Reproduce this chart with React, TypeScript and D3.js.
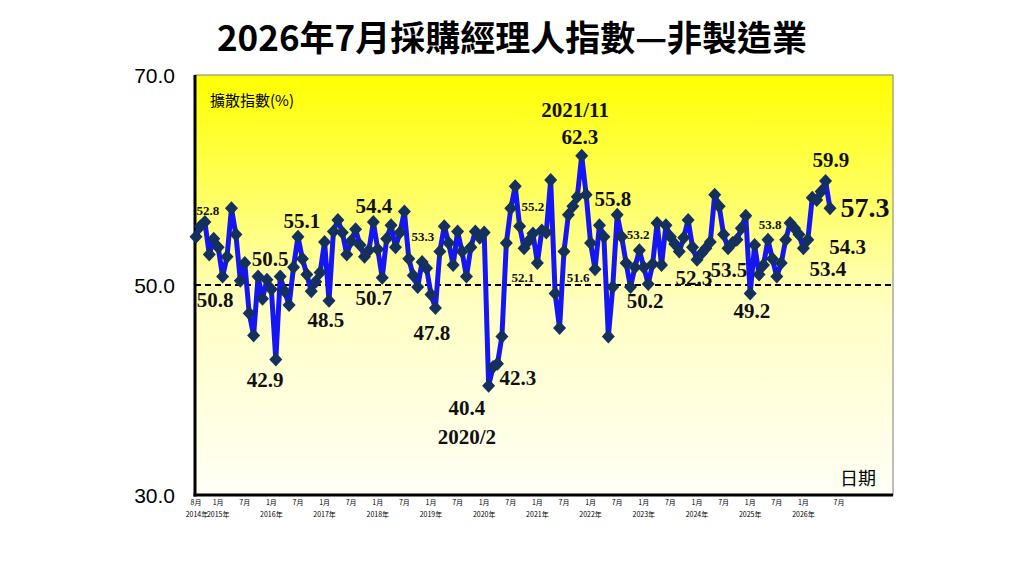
import React from 'react';
import * as d3 from 'd3';

// ---- data ----
const startYear = 2014;
const startMonth = 8;
const values: number[] = [
  54.6, 55.6, 56.0, 52.9, 54.4,
  53.6, 50.8, 52.7, 57.3, 54.8, 50.4, 52.1, 47.3, 45.2, 50.8, 48.7, 50.5,
  49.6, 42.9, 50.8, 49.4, 48.1, 51.7, 54.6, 52.5, 51.0, 49.4, 50.3, 51.2,
  54.1, 48.5, 55.1, 56.2, 55.0, 52.9, 54.2, 55.3, 53.8, 52.7, 53.3, 56.0,
  53.4, 50.7, 54.4, 55.7, 53.6, 55.0, 57.0, 52.5, 50.9, 49.8, 52.2, 51.6,
  49.1, 47.8, 53.2, 55.6, 54.0, 51.9, 55.1, 53.2, 50.8, 53.6, 55.1, 54.5,
  55.0, 40.4, 42.2, 42.5, 45.1, 54.0, 57.3, 59.4, 55.6, 53.5, 54.2, 54.9,
  52.1, 55.2, 55.0, 60.0, 49.2, 45.9, 53.2, 56.7, 57.5, 58.4, 62.3, 58.6,
  54.0, 51.5, 55.7, 54.6, 45.1, 49.8, 56.7, 54.6, 52.1, 49.8, 51.7, 53.3,
  51.7, 50.1, 52.0, 55.9, 51.9, 55.7, 54.6, 53.9, 53.2, 54.5, 56.2, 53.6,
  52.4, 53.0, 53.5, 54.1, 58.6, 57.5, 54.8, 53.5, 54.0, 54.3, 55.4, 56.6,
  49.2, 53.8, 51.0, 51.9, 54.3, 52.5, 50.8, 52.1, 54.3, 55.9, 55.4, 54.8,
  53.5, 54.3, 58.3, 58.1, 58.9, 59.9, 57.3,
];
const categories = values.map((_, i) => {
  const m = startMonth - 1 + i;
  return { year: startYear + Math.floor(m / 12), month: (m % 12) + 1 };
});
const yTicks = [30, 50, 70];
const threshold = 50;

const titleText = '2026年7月採購經理人指數—非製造業';
const yAxisTitle = '擴散指數(%)';
const xAxisTitle = '日期';

// annotation labels: anchor in data space (category index, value)
const annotations = [
  { text: '52.8', idx: 2.7, v: 57.1, kind: 's' },
  { text: '50.8', idx: 4.3, v: 48.6, kind: 'm' },
  { text: '50.5', idx: 16.7, v: 52.5, kind: 'm' },
  { text: '42.9', idx: 15.6, v: 40.95, kind: 'm' },
  { text: '55.1', idx: 23.9, v: 56.1, kind: 'm' },
  { text: '48.5', idx: 29.3, v: 46.7, kind: 'm' },
  { text: '54.4', idx: 40.1, v: 57.6, kind: 'm' },
  { text: '50.7', idx: 40.1, v: 48.8, kind: 'm' },
  { text: '53.3', idx: 51.2, v: 54.6, kind: 's' },
  { text: '47.8', idx: 53.2, v: 45.5, kind: 'm' },
  { text: '40.4', idx: 61.1, v: 38.3, kind: 'm' },
  { text: '2020/2', idx: 61.1, v: 35.6, kind: 'm' },
  { text: '42.3', idx: 72.6, v: 41.2, kind: 'm' },
  { text: '52.1', idx: 73.7, v: 50.7, kind: 's' },
  { text: '55.2', idx: 76.0, v: 57.5, kind: 's' },
  { text: '2021/11', idx: 85.5, v: 66.7, kind: 'm' },
  { text: '62.3', idx: 86.6, v: 64.1, kind: 'm' },
  { text: '51.6', idx: 86.2, v: 50.7, kind: 's' },
  { text: '55.8', idx: 94.0, v: 58.2, kind: 'm' },
  { text: '53.2', idx: 99.7, v: 54.8, kind: 's' },
  { text: '50.2', idx: 101.3, v: 48.5, kind: 'm' },
  { text: '52.3', idx: 112.3, v: 50.7, kind: 'm' },
  { text: '53.5', idx: 120.2, v: 51.5, kind: 'm' },
  { text: '49.2', idx: 125.4, v: 47.6, kind: 'm' },
  { text: '53.8', idx: 129.5, v: 55.8, kind: 's' },
  { text: '59.9', idx: 143.2, v: 61.9, kind: 'm' },
  { text: '57.3', idx: 150.9, v: 57.4, kind: 'l' },
  { text: '54.3', idx: 147.0, v: 53.7, kind: 'm' },
  { text: '53.4', idx: 142.5, v: 51.6, kind: 'm' },
];

// ---- layout ----
const W = 1024;
const H = 576;
const plot = { left: 195, right: 893, top: 75, bottom: 495 };

export default function App() {
  const x = d3.scaleLinear().domain([0, values.length - 1]).range([196, 830]);
  const y = d3.scaleLinear().domain([30, 70]).range([plot.bottom, plot.top]);

  const line = d3
    .line<number>()
    .x((_, i) => x(i))
    .y((d) => y(d));

  const diamond = (cx: number, cy: number) =>
    `M${cx},${cy - 7}L${cx + 6.5},${cy}L${cx},${cy + 7}L${cx - 6.5},${cy}Z`;

  const monthTicks = categories
    .map((c, i) => ({ ...c, i }))
    .filter((c) => c.i === 0 || c.month === 1 || c.month === 7);
  const yearTicks = categories
    .map((c, i) => ({ ...c, i }))
    .filter((c) => c.i === 0 || c.month === 1);

  const serif = "'Liberation Serif', 'DejaVu Serif', serif";
  const cjk = "'Noto Sans CJK TC', 'Noto Sans CJK SC', sans-serif";

  return (
    <svg
      width={W}
      height={H}
      viewBox={`0 0 ${W} ${H}`}
      style={{ position: 'absolute', left: 0, top: 0, background: '#ffffff' }}
    >
      <defs>
        <linearGradient id="bg" x1="0" y1="0" x2="0" y2="1">
          <stop offset="0%" stopColor="#FFFF00" />
          <stop offset="30%" stopColor="#FFFF66" />
          <stop offset="55%" stopColor="#FFFFC4" />
          <stop offset="100%" stopColor="#FFFFF6" />
        </linearGradient>
      </defs>

      <text
        x={512}
        y={51}
        textAnchor="middle"
        fontFamily={cjk}
        fontWeight={700}
        fontSize={35}
        fill="#000"
      >
        {titleText}
      </text>

      <rect
        x={plot.left}
        y={plot.top}
        width={plot.right - plot.left}
        height={plot.bottom - plot.top}
        fill="url(#bg)"
        stroke="#7f7f7f"
        strokeWidth={1}
      />

      {/* threshold dashed line */}
      <line
        x1={plot.left}
        x2={plot.right}
        y1={y(threshold)}
        y2={y(threshold)}
        stroke="#000"
        strokeWidth={2}
        strokeDasharray="6,4"
      />

      {/* axes */}
      <line x1={plot.left} x2={plot.left} y1={plot.top} y2={plot.bottom + 1.5} stroke="#000" strokeWidth={3} />
      <line x1={plot.left - 1.5} x2={plot.right} y1={plot.bottom} y2={plot.bottom} stroke="#000" strokeWidth={3} />

      {yTicks.map((t) => (
        <text
          key={t}
          x={175}
          y={y(t)}
          dy="0.36em"
          textAnchor="end"
          fontFamily="'Liberation Sans', Arial, sans-serif"
          fontSize={21}
          fill="#000"
        >
          {t.toFixed(1)}
        </text>
      ))}

      <text x={210} y={106} fontFamily={cjk} fontSize={15} fill="#000">
        {yAxisTitle}
      </text>
      <text x={840} y={485} fontFamily={cjk} fontSize={18} fill="#000">
        {xAxisTitle}
      </text>

      {/* x tick labels */}
      {monthTicks.map((c) => (
        <text
          key={`m${c.i}`}
          x={x(c.i) + (c.i === values.length - 1 ? 9 : 0)}
          y={503}
          dy="0.35em"
          textAnchor="middle"
          fontFamily={cjk}
          fontSize={7}
          fill="#000"
        >
          {`${c.month}月`}
        </text>
      ))}
      {yearTicks.map((c) => (
        <text
          key={`y${c.i}`}
          x={x(c.i) + (c.i === 0 ? 1 : 0)}
          y={515}
          dy="0.35em"
          textAnchor="middle"
          fontFamily={cjk}
          fontSize={7}
          fill="#000"
        >
          {`${c.year}年`}
        </text>
      ))}

      {/* series */}
      <path d={line(values) || ''} fill="none" stroke="#1515F5" strokeWidth={5} strokeLinejoin="round" />
      {values.map((v, i) => (
        <path key={i} d={diamond(x(i), y(v))} fill="#14305F" />
      ))}

      {/* annotations */}
      {annotations.map((a, k) => (
        <text
          key={k}
          x={x(a.idx)}
          y={y(a.v)}
          dy="0.35em"
          textAnchor="middle"
          fontFamily={serif}
          fontWeight={700}
          fontSize={a.kind === 's' ? 13 : a.kind === 'l' ? 28 : 21}
          fill="#111"
        >
          {a.text}
        </text>
      ))}
    </svg>
  );
}
